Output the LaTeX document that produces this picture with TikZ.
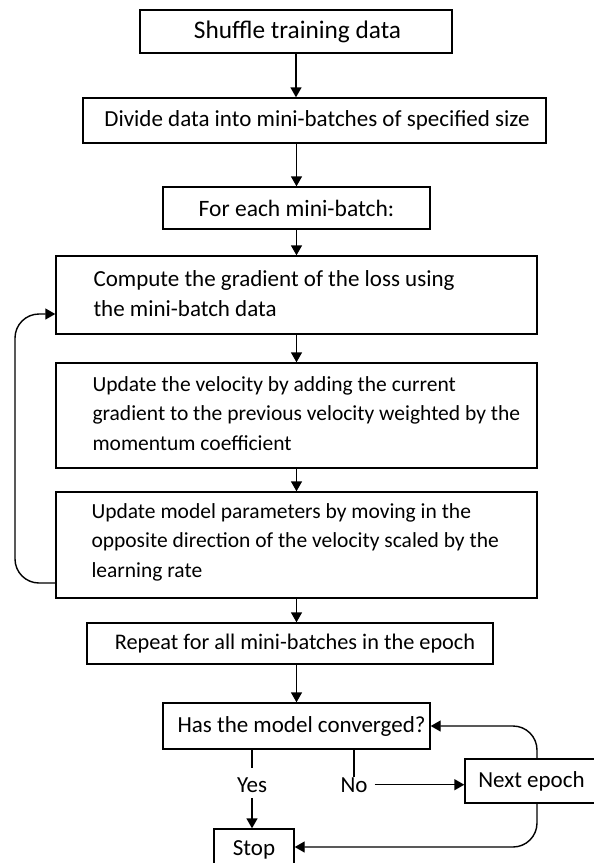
\documentclass[tikz,border=0pt]{standalone}
\usepackage{fontspec}
\setmainfont{Carlito}
\usetikzlibrary{arrows.meta,calc}
\begin{document}
\begin{tikzpicture}[x=1pt,y=-1pt,
  box/.style={draw=black, line width=1.4pt, inner sep=0pt, font=\fontsize{23}{29.5}\selectfont},
  txt/.style={inner sep=0pt, align=left, anchor=west, font=\fontsize{23}{29.5}\selectfont},
  lbl/.style={inner sep=0pt, anchor=base, font=\fontsize{23}{29.5}\selectfont},
  arr/.style={line width=1.4pt, -{Triangle[length=10pt,width=11pt]}},
  ln/.style={line width=1.4pt}]
\useasboundingbox (0,0) rectangle (594,863);
\fill[white] (0,0) rectangle (594,863);
% boxes
\node[box, minimum width=312pt, minimum height=43pt, font=\fontsize{25.3}{30}\selectfont] (b1) at (296,31.5) {\hspace*{3pt}Shuffle training data};
\node[box, minimum width=463pt, minimum height=45pt] (b2) at (314.5,120.5) {\hspace*{5pt}Divide data into mini-batches of specified size};
\node[box, minimum width=267pt, minimum height=42pt, font=\fontsize{23.5}{29.5}\selectfont] (b3) at (296.5,208) {For each mini-batch:};
\node[box, minimum width=481pt, minimum height=78pt] (b4) at (296.5,295) {};
\node[box, minimum width=481pt, minimum height=105pt] (b5) at (296.5,415.5) {};
\node[box, minimum width=481pt, minimum height=106pt] (b6) at (296.5,545) {};
\node[box, minimum width=406pt, minimum height=41pt, font=\fontsize{22.3}{29.5}\selectfont] (b7) at (290,643.5) {\hspace*{10pt}Repeat for all mini-batches in the epoch};
\node[box, minimum width=267pt, minimum height=46pt] (has) at (296.5,726) {\hspace*{10pt}Has the model converged?};
\node[box, minimum width=133pt, minimum height=44pt] (next) at (531.5,781) {Next epoch};
\node[box, minimum width=80pt, minimum height=41pt] (stop) at (254,849.5) {Stop};
% texts of multi-line boxes
\node[txt] (t4) at ([xshift=38pt,yshift=1.5pt]b4.west) {Compute the gradient of the loss using\\the mini-batch data};
\node[txt, font=\fontsize{21.5}{29.5}\selectfont] (t5) at ([xshift=37pt,yshift=2pt]b5.west) {Update the velocity by adding the current\\gradient to the previous velocity weighted by the\\momentum coefficient};
\node[txt, font=\fontsize{21.5}{29.5}\selectfont] (t6) at ([xshift=36pt,yshift=3pt]b6.west) {Update model parameters by moving in the\\opposite direction of the velocity scaled by the\\learning rate};
% branch labels
\node[lbl] (yes) at (252,792) {Yes};
\node[lbl] (no) at (354,792) {No};
% connectors
\draw[arr] (b1.south) -- (b1.south |- b2.north);
\draw[arr] (b3.north |- b2.south) -- (b3.north);
\draw[arr] (b3.south) -- (b4.north);
\draw[arr] (b4.south) -- (b5.north);
\draw[arr] (b5.south) -- (b6.north);
\draw[arr] (b6.south) -- (b6.south |- b7.north);
\draw[arr] (has.north |- b7.south) -- (has.north);
\coordinate (lp) at (15,450);
\draw[arr, rounded corners=24pt] ([yshift=-38pt]b6.west) -| (lp) |- ([yshift=-19pt]b4.west);
\draw[ln] (has.south -| yes) -- ([yshift=9pt]yes.north);
\draw[arr] ([yshift=-5.5pt]yes.south) -- (yes |- stop.north);
\draw[ln] (has.south -| no) -- (no.north);
\draw[arr] ([xshift=7pt]no.east) -- (no.east -| next.west);
\draw[arr, rounded corners=24pt] ([xshift=5.5pt]next.north) |- (has.east);
\draw[arr, rounded corners=24pt] ([xshift=5.5pt]next.south) |- ([yshift=2.5pt]stop.east);
\end{tikzpicture}
\end{document}
